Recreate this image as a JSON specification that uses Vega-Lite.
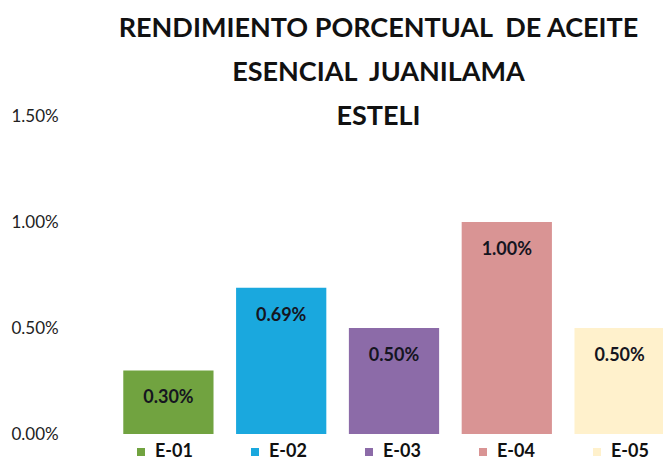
{
  "$schema": "https://vega.github.io/schema/vega-lite/v6.json",
  "width": 551,
  "height": 318,
  "autosize": {"type": "none"},
  "padding": {"left": 112, "top": 116, "right": 0, "bottom": 28},
  "background": "white",
  "config": {
    "view": {"stroke": null},
    "font": "Lato"
  },
  "title": {
    "text": ["RENDIMIENTO PORCENTUAL \u00a0DE ACEITE", "ESENCIAL \u00a0JUANILAMA", "ESTELI"],
    "font": "Lato",
    "fontSize": 27,
    "fontWeight": "bold",
    "color": "#111111",
    "lineHeight": 44,
    "anchor": "middle",
    "frame": "group",
    "dx": -9,
    "baseline": "bottom",
    "offset": -51
  },
  "data": {
    "values": [
      {"muestra": "E-01", "rendimiento": 0.003},
      {"muestra": "E-02", "rendimiento": 0.0069},
      {"muestra": "E-03", "rendimiento": 0.005},
      {"muestra": "E-04", "rendimiento": 0.01},
      {"muestra": "E-05", "rendimiento": 0.005}
    ]
  },
  "encoding": {
    "x": {
      "field": "muestra",
      "type": "nominal",
      "sort": null,
      "scale": {"range": [0, 564], "paddingInner": 0.2, "paddingOuter": 0.1},
      "axis": null
    },
    "y": {
      "field": "rendimiento",
      "type": "quantitative",
      "scale": {"domain": [0, 0.015]},
      "axis": {
        "title": null,
        "format": ".2%",
        "values": [0, 0.005, 0.01, 0.015],
        "grid": false,
        "domain": false,
        "ticks": false,
        "tickSize": 0,
        "labelAlign": "left",
        "labelPadding": 101,
        "labelFontSize": 17,
        "labelColor": "#222222",
        "labelFont": "Lato"
      }
    }
  },
  "layer": [
    {
      "mark": {"type": "bar", "clip": true},
      "encoding": {
        "color": {
          "field": "muestra",
          "type": "nominal",
          "sort": null,
          "scale": {
            "domain": ["E-01", "E-02", "E-03", "E-04", "E-05"],
            "range": ["#71A340", "#1AA8DE", "#8C6BA8", "#D99494", "#FFF1CC"]
          },
          "legend": {
            "title": null,
            "orient": "none",
            "legendX": 20,
            "legendY": 327,
            "direction": "horizontal",
            "columns": 5,
            "gridAlign": "all",
            "columnPadding": 53,
            "symbolType": "square",
            "symbolSize": 64,
            "symbolStrokeWidth": 0,
            "labelFontSize": 18,
            "labelFontWeight": "bold",
            "labelColor": "#111111",
            "labelOffset": 5,
            "labelFont": "Lato"
          }
        }
      }
    },
    {
      "mark": {
        "type": "text",
        "baseline": "middle",
        "dy": 28,
        "fontSize": 18,
        "fontWeight": "bold",
        "color": "#15151f",
        "font": "Lato"
      },
      "encoding": {
        "text": {"field": "rendimiento", "type": "quantitative", "format": ".2%"}
      }
    }
  ]
}
